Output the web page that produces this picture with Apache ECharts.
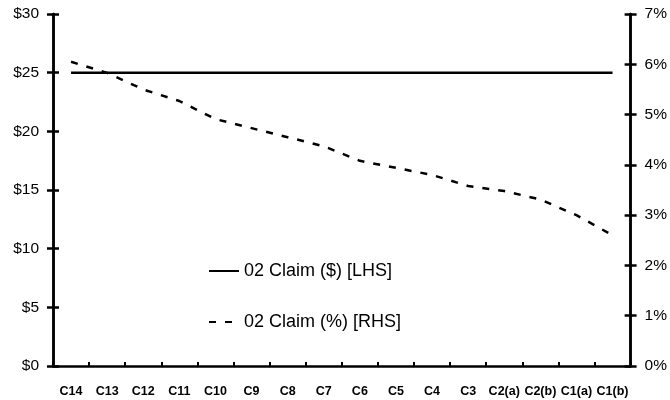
<!DOCTYPE html>
<html>
<head>
<meta charset="utf-8">
<script src="https://cdn.jsdelivr.net/npm/echarts@6/dist/echarts.min.js"></script>
<style>
html,body{margin:0;padding:0;background:#fff;}
#c{width:670px;height:400px;}
</style>
</head>
<body>
<div id="c"></div>
<script>
const categories = ['C14','C13','C12','C11','C10','C9','C8','C7','C6','C5','C4','C3','C2(a)','C2(b)','C1(a)','C1(b)'];
const claimDollar = [25,25,25,25,25,25,25,25,25,25,25,25,25,25,25,25];
const claimPct = [6.05,5.83,5.50,5.27,4.91,4.73,4.55,4.37,4.08,3.94,3.80,3.58,3.48,3.31,3.00,2.60];
const nameDollar = '02 Claim ($) [LHS]';
const namePct = '02 Claim (%) [RHS]';

const FONT = 'Liberation Sans, Arial, sans-serif';
const chart = echarts.init(document.getElementById('c'));

function yAx(pos, min, max, interval, fmt, inside, showLabel){
  return {
    type:'value', position:pos, min:min, max:max, interval:interval,
    axisLine:{show:true, lineStyle:{color:'#000', width:2.5}},
    axisTick:{show:true, inside:inside, length:6, lineStyle:{color:'#000', width:2.5}},
    axisLabel:{show:showLabel, formatter:fmt, color:'#000', fontFamily:FONT, fontSize:15.5, margin:14},
    splitLine:{show:false}
  };
}

chart.setOption({
  animation:false,
  backgroundColor:'#fff',
  grid:{left:53, right:39, top:14, bottom:34, containLabel:false},
  legend:{
    orient:'vertical', left:203, top:257, itemGap:33, itemWidth:30, itemHeight:16,
    itemStyle:{opacity:0},
    textStyle:{fontFamily:FONT, fontSize:18, color:'#000'},
    data:[nameDollar, namePct]
  },
  xAxis:{
    type:'category', data:categories, boundaryGap:true,
    axisLine:{lineStyle:{color:'#000', width:2.5}},
    axisTick:{show:true, inside:true, length:4, alignWithLabel:false, lineStyle:{color:'#000', width:2}},
    axisLabel:{color:'#000', fontFamily:FONT, fontSize:12.5, fontWeight:'bold', margin:19, interval:0}
  },
  yAxis:[
    yAx('left', 0, 30, 5, '${value}', false, true),
    yAx('right', 0, 7, 1, '{value}%', false, true),
    yAx('left', 0, 30, 5, '', true, false),
    yAx('right', 0, 7, 1, '', true, false)
  ],
  series:[
    {name:nameDollar, type:'line', yAxisIndex:0, data:claimDollar, symbol:'none',
     lineStyle:{color:'#000', width:2.5, type:'solid'}, itemStyle:{color:'#000'}},
    {name:namePct, type:'line', yAxisIndex:1, data:claimPct, symbol:'none',
     lineStyle:{color:'#000', width:2.5, type:[7,9]}, itemStyle:{color:'#000'}}
  ]
});
</script>
</body>
</html>
